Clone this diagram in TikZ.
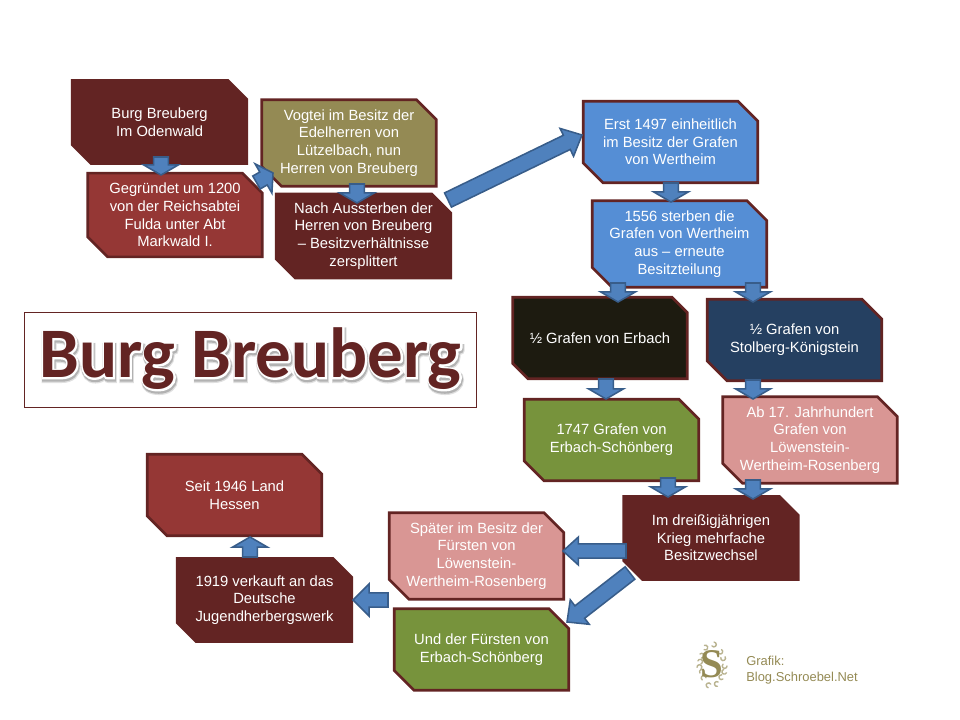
\documentclass[tikz,border=0pt]{standalone}
\usepackage{fontspec}
\setmainfont{Liberation Sans}
\newfontfamily\titlesoft[FakeBold=8]{Carlito Bold}
\newfontfamily\titleshade[FakeBold=6]{Carlito Bold}
\newfontfamily\titlehalo[FakeBold=5]{Carlito Bold}
\newfontfamily\titlebold{Carlito Bold}
\newfontfamily\logofont{Liberation Serif Bold}
\usepackage{xcolor}
\usepackage{tikz}
\usetikzlibrary{calc,shapes.misc}
\definecolor{wine}{HTML}{632423}
\definecolor{brick}{HTML}{953735}
\definecolor{olive}{HTML}{948A54}
\definecolor{skyblue}{HTML}{558ED5}
\definecolor{soot}{HTML}{1D1B10}
\definecolor{navy}{HTML}{254061}
\definecolor{moss}{HTML}{77933C}
\definecolor{rose}{HTML}{D99694}
\definecolor{arrowfill}{HTML}{4F81BD}
\definecolor{arrowline}{HTML}{385D8A}
\newcommand{\bigtitle}{\fontsize{50.5}{50.5}\selectfont\raisebox{-3pt}{%
  \rlap{\raisebox{-1.8pt}{\hspace{0.7pt}\titlesoft\textcolor{black!12}{Burg Breuberg}}}%
  \rlap{\raisebox{-1.4pt}{\hspace{0.5pt}\titleshade\textcolor{black!30}{Burg Breuberg}}}%
  \rlap{\titlehalo\textcolor{white}{Burg Breuberg}}%
  {\titlebold\textcolor{wine}{Burg Breuberg}}}}
\begin{document}
\begin{tikzpicture}[x=0.025cm,y=-0.025cm,
  station/.style={chamfered rectangle,chamfered rectangle corners={north east,south west},
              chamfered rectangle xsep=7pt,chamfered rectangle ysep=7pt,
              inner sep=0pt,minimum width=124pt,minimum height=58pt,draw=wine,line width=1.9pt,
              align=center,text=white,font=\fontsize{10.5}{12.6}\selectfont},
  stationbare/.style={station,draw=none,minimum width=126pt,minimum height=61pt},
  blockarr/.style={draw=arrowline,fill=arrowfill,line width=1.1pt,line join=miter,
    shaft/.initial=5.3pt,headw/.initial=12.4pt,headl/.initial=7.2pt,
    to path={($(\tikztostart)!\pgfkeysvalueof{/tikz/shaft}!90:(\tikztotarget)$)
      -- ($(\tikztotarget)!\pgfkeysvalueof{/tikz/headl}!(\tikztostart)!\pgfkeysvalueof{/tikz/shaft}!90:(\tikztotarget)$)
      -- ($(\tikztotarget)!\pgfkeysvalueof{/tikz/headl}!(\tikztostart)!\pgfkeysvalueof{/tikz/headw}!90:(\tikztotarget)$)
      -- (\tikztotarget)
      -- ($(\tikztotarget)!\pgfkeysvalueof{/tikz/headl}!(\tikztostart)!\pgfkeysvalueof{/tikz/headw}!-90:(\tikztotarget)$)
      -- ($(\tikztotarget)!\pgfkeysvalueof{/tikz/headl}!(\tikztostart)!\pgfkeysvalueof{/tikz/shaft}!-90:(\tikztotarget)$)
      -- ($(\tikztostart)!\pgfkeysvalueof{/tikz/shaft}!-90:(\tikztotarget)$) -- cycle}},
  longhead/.style={headl=11pt,headw=11pt,shaft=5.6pt}]
\useasboundingbox (0,0) rectangle (960,720);
\node[stationbare,fill=wine] (burg) at (159.5,122) {Burg Breuberg\\Im Odenwald};
\node[station,fill=brick] (founded) at (175,215) {Gegründet um 1200\\von der Reichsabtei\\Fulda unter Abt\\Markwald I.};
\node[station,fill=olive] (vogtei) at (349,143) {Vogtei im Besitz der\\Edelherren von\\Lützelbach, nun\\Herren von Breuberg};
\node[stationbare,fill=wine] (split) at (363.5,236) {Nach Aussterben der\\Herren von Breuberg\\– Besitzverhältnisse\\zersplittert};
\node[station,fill=skyblue] (erst) at (670.5,142) {Erst 1497 einheitlich\\im Besitz der Grafen\\von Wertheim};
\node[station,fill=skyblue] (sterben) at (679.5,244) {1556 sterben die\\Grafen von Wertheim\\aus – erneute\\Besitzteilung};
\node[station,fill=soot] (erbach) at (600,338) {½ Grafen von Erbach};
\node[station,fill=navy] (stolberg) at (794.5,340) {½ Grafen von\\Stolberg-Königstein};
\node[station,fill=moss] (schoen) at (611.5,440) {1747 Grafen von\\Erbach-Schönberg};
\node[station,fill=rose] (loew) at (810,440) {Ab 17. Jahrhundert\\Grafen von\\Löwenstein-\\Wertheim-Rosenberg};
\node[stationbare,fill=wine] (krieg) at (711,538) {Im dreißigjährigen\\Krieg mehrfache\\Besitzwechsel};
\node[station,fill=rose] (spaeter) at (476.5,556) {Später im Besitz der\\Fürsten von\\Löwenstein-\\Wertheim-Rosenberg};
\node[station,fill=moss] (fuersten) at (481.5,649.5) {Und der Fürsten von\\Erbach-Schönberg};
\node[stationbare,fill=wine] (verkauf) at (264.5,600) {1919 verkauft an das\\Deutsche\\Jugendherbergswerk};
\node[station,fill=brick] (hessen) at (234.5,495) {Seit 1946 Land\\Hessen};
% title panel
\node[draw=wine,line width=0.6pt,fill=white,minimum width=322pt,minimum height=68pt,inner sep=0pt] (title) at (250.5,360) {\bigtitle};
% footer
\foreach \a/\r in {0/15,25/16,50/17,75/21,100/22,125/17,150/14,175/15,200/15,225/17,250/22,275/24,300/19,325/16}
  \draw[olive!65,line width=1pt,line cap=round] (712,666) ++(\a:\r) arc[start angle=\a,delta angle=230,radius=2.4];
\node[text=olive,font=\fontsize{29}{29}\logofont,inner sep=0pt] (logo) at (712,664) {S};
\node[text=olive,align=left,anchor=west,inner sep=0pt,font=\fontsize{9.2}{11.5}\selectfont] (credit) at (746,670) {Grafik:\\Blog.Schroebel.Net};
% connectors
\draw[blockarr] ([shift={(1.5,35)}]burg.center) to ([shift={(-14,-40)}]founded.center);
\draw[blockarr,headw=12pt,headl=7.8pt] ([shift={(81.5,-32.5)}]founded.center) to ([shift={(-76,30)}]vogtei.center);
\draw[blockarr] ([shift={(8,41)}]vogtei.center) to ([shift={(-6.5,-33)}]split.center);
\draw[blockarr,longhead,headl=12pt] ([shift={(84.5,-36)}]split.center) to ([shift={(-88.5,-7)}]erst.center);
\draw[blockarr] ([shift={(0.5,41)}]erst.center) to ([shift={(-8.5,-42)}]sterben.center);
\draw[blockarr] ([shift={(-61.5,39)}]sterben.center) to ([shift={(18,-36)}]erbach.center);
\draw[blockarr] ([shift={(73.5,39)}]sterben.center) to ([shift={(-41.5,-38)}]stolberg.center);
\draw[blockarr] ([shift={(6,41)}]erbach.center) to ([shift={(-5.5,-41)}]schoen.center);
\draw[blockarr] ([shift={(-41.5,40)}]stolberg.center) to ([shift={(-57,-41)}]loew.center);
\draw[blockarr] ([shift={(56.5,38)}]schoen.center) to ([shift={(-43,-41)}]krieg.center);
\draw[blockarr] ([shift={(-57,40)}]loew.center) to ([shift={(42,-39)}]krieg.center);
\draw[blockarr,longhead,headw=10pt,shaft=5pt] ([shift={(-85,13)}]krieg.center) to ([shift={(86.5,-5)}]spaeter.center);
\draw[blockarr,longhead,headl=11.5pt] ([shift={(-81,35)}]krieg.center) to ([shift={(85.5,-27.5)}]fuersten.center);
\draw[blockarr,longhead,headl=11.5pt,headw=11.5pt,shaft=5pt] ([shift={(-88.5,44)}]spaeter.center) to ([shift={(88.5,0)}]verkauf.center);
\draw[blockarr] ([shift={(-14.5,-43)}]verkauf.center) to ([shift={(15.5,42)}]hessen.center);
\end{tikzpicture}
\end{document}
